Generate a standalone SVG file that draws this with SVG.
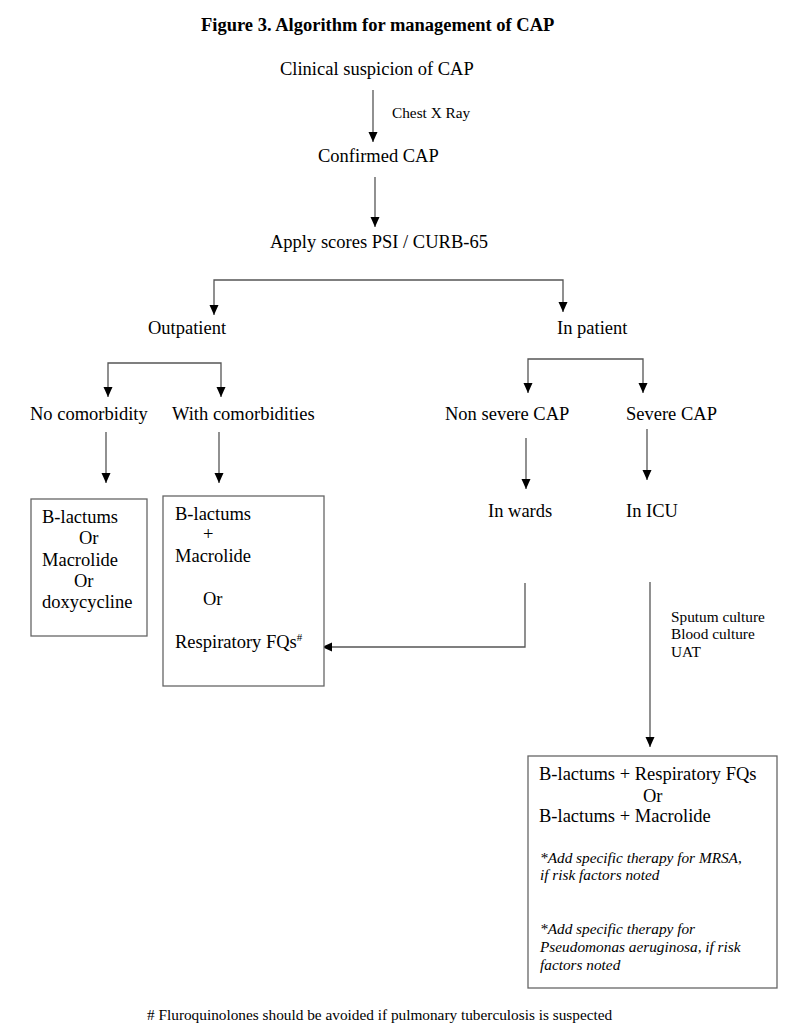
<svg xmlns="http://www.w3.org/2000/svg" width="800" height="1035" viewBox="0 0 800 1035">
<style>
text{font-family:"Liberation Serif","Times New Roman",serif;fill:#000}
.t{font-size:18.5px}
.s{font-size:15.3px}
.i{font-size:15.3px;font-style:italic}
.b{font-size:18.5px;font-weight:bold}
.c{fill:none;stroke:#555;stroke-width:1.3}
.box{fill:#fff;stroke:#666;stroke-width:1.3}
</style>
<defs>
<marker id="ah" markerUnits="userSpaceOnUse" markerWidth="10" markerHeight="10" refX="10" refY="5" orient="auto">
<path d="M0,0.5 L10,5 L0,9.5 z" fill="#000"/>
</marker>
</defs>
<rect width="800" height="1035" fill="#fff"/>
<text class="b" x="201" y="31">Figure 3. Algorithm for management of CAP</text>
<g id="connectors">
<path class="c" d="M373,90 V142" marker-end="url(#ah)"/>
<text class="s" x="392" y="118">Chest X Ray</text>
<path class="c" d="M375,177 V227" marker-end="url(#ah)"/>
<path class="c" d="M390,280 H214 V315" marker-end="url(#ah)"/>
<path class="c" d="M390,280 H563 V312" marker-end="url(#ah)"/>
<path class="c" d="M165,363 H108 V397" marker-end="url(#ah)"/>
<path class="c" d="M165,363 H221 V397" marker-end="url(#ah)"/>
<path class="c" d="M585,359 H528 V393" marker-end="url(#ah)"/>
<path class="c" d="M585,359 H643 V393" marker-end="url(#ah)"/>
<path class="c" d="M106,432 V483" marker-end="url(#ah)"/>
<path class="c" d="M219,432 V483" marker-end="url(#ah)"/>
<path class="c" d="M526,438 V489" marker-end="url(#ah)"/>
<path class="c" d="M647,429 V480" marker-end="url(#ah)"/>
<path class="c" d="M525,583 V647 H322" marker-end="url(#ah)"/>
<path class="c" d="M650,582 V747" marker-end="url(#ah)"/>
<text class="s" x="671" y="622">Sputum culture</text>
<text class="s" x="671" y="639">Blood culture</text>
<text class="s" x="671" y="657">UAT</text>
</g>
<g id="n-suspicion"><text class="t" x="280" y="75">Clinical suspicion of CAP</text></g>
<g id="n-confirmed"><text class="t" x="318" y="162">Confirmed CAP</text></g>
<g id="n-scores"><text class="t" x="270" y="248">Apply scores PSI / CURB-65</text></g>
<g id="n-outpatient"><text class="t" x="148" y="334">Outpatient</text></g>
<g id="n-inpatient"><text class="t" x="557" y="334">In patient</text></g>
<g id="n-nocomorb"><text class="t" x="30" y="420">No comorbidity</text></g>
<g id="n-withcomorb"><text class="t" x="172" y="420">With comorbidities</text></g>
<g id="n-nonsevere"><text class="t" x="445" y="420">Non severe CAP</text></g>
<g id="n-severe"><text class="t" x="626" y="420">Severe CAP</text></g>
<g id="n-wards"><text class="t" x="488" y="517">In wards</text></g>
<g id="n-icu"><text class="t" x="626" y="517">In ICU</text></g>
<g id="n-box1">
<rect class="box" x="31" y="499" width="116" height="137"/>
<text class="t" x="42" y="523">B-lactums</text>
<text class="t" x="79" y="544">Or</text>
<text class="t" x="42" y="566">Macrolide</text>
<text class="t" x="74" y="587">Or</text>
<text class="t" x="42" y="608">doxycycline</text>
</g>
<g id="n-box2">
<rect class="box" x="163" y="496" width="161" height="190"/>
<text class="t" x="175" y="520">B-lactums</text>
<text class="t" x="203" y="540">+</text>
<text class="t" x="175" y="562">Macrolide</text>
<text class="t" x="203" y="605">Or</text>
<text class="t" x="175" y="648">Respiratory FQs<tspan font-size="11" dy="-7">#</tspan></text>
</g>
<g id="n-box3">
<rect class="box" x="528" y="756" width="249" height="232"/>
<text class="t" x="539" y="780">B-lactums + Respiratory FQs</text>
<text class="t" x="643" y="802">Or</text>
<text class="t" x="539" y="822">B-lactums + Macrolide</text>
<text class="i" x="540" y="863">*Add specific therapy for MRSA,</text>
<text class="i" x="540" y="880">if risk factors noted</text>
<text class="i" x="540" y="934">*Add specific therapy for</text>
<text class="i" x="540" y="952">Pseudomonas aeruginosa, if risk</text>
<text class="i" x="540" y="970">factors noted</text>
</g>
<g id="footnote"><text class="s" x="147" y="1020"># Fluroquinolones should be avoided if pulmonary tuberculosis is suspected</text></g>
</svg>
